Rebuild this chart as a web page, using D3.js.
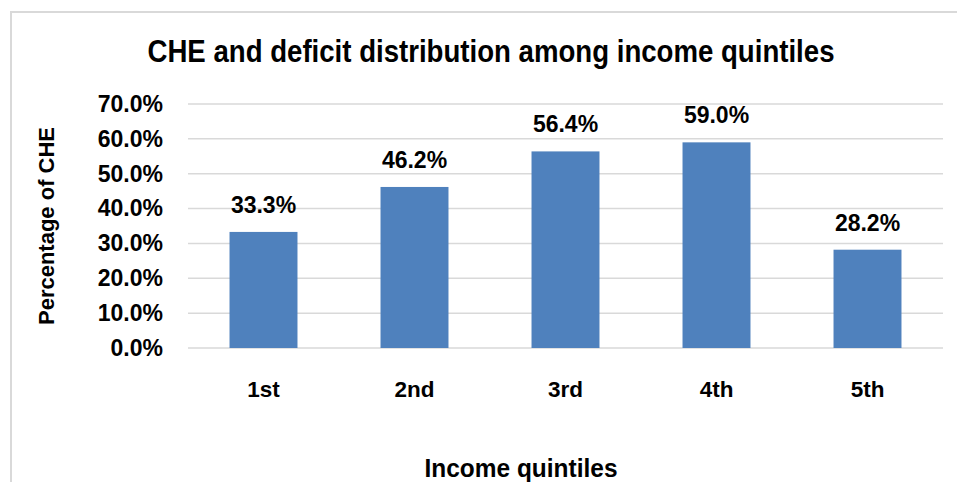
<!DOCTYPE html>
<html>
<head>
<meta charset="utf-8">
<script src="https://cdn.jsdelivr.net/npm/d3@7"></script>
<style>
  body { margin: 0; background: #fff; }
  text { font-family: "Liberation Sans", Arial, sans-serif; font-weight: bold; fill: #000; }
</style>
</head>
<body>
<div id="chart"></div>
<script>
// Chart data
const quintiles = ["1st", "2nd", "3rd", "4th", "5th"];
const chePercent = [33.3, 46.2, 56.4, 59.0, 28.2];
const yTicks = [0, 10, 20, 30, 40, 50, 60, 70];

const width = 957, height = 482;
const margin = { top: 104, right: 14, bottom: 134, left: 188 };

const svg = d3.select("#chart")
    .append("svg")
    .attr("width", width)
    .attr("height", height);

// Outer frame (runs off the right and bottom of the picture)
svg.append("rect")
    .attr("x", 11)
    .attr("y", 12)
    .attr("width", 980)
    .attr("height", 500)
    .attr("fill", "none")
    .attr("stroke", "#d9d9d9")
    .attr("stroke-width", 2);

const x = d3.scaleBand()
    .domain(quintiles)
    .range([margin.left, width - margin.right])
    .paddingInner(0.55)
    .paddingOuter(0.275);

const y = d3.scaleLinear()
    .domain([0, 70])
    .range([height - margin.bottom, margin.top]);

// Gridlines
svg.append("g")
    .selectAll("line")
    .data(yTicks)
    .enter()
    .append("line")
    .attr("x1", margin.left)
    .attr("x2", width - margin.right)
    .attr("y1", d => y(d))
    .attr("y2", d => y(d))
    .attr("stroke", "#d9d9d9")
    .attr("stroke-width", 1.5);

// Y axis labels
const yAxis = svg.append("g")
    .attr("transform", `translate(${margin.left - 25},0)`)
    .call(d3.axisLeft(y).tickValues(yTicks).tickSize(0).tickPadding(0).tickFormat(d => d.toFixed(1) + "%"));
yAxis.select(".domain").remove();
yAxis.selectAll("text")
    .style("font-size", "23px")
    .style("font-family", "'Liberation Sans', Arial, sans-serif")
    .style("font-weight", "bold")
    .attr("fill", "#000");

// Bars
svg.append("g")
    .selectAll("rect")
    .data(chePercent)
    .enter()
    .append("rect")
    .attr("x", (d, i) => x(quintiles[i]))
    .attr("y", d => y(d))
    .attr("width", x.bandwidth())
    .attr("height", d => y(0) - y(d))
    .attr("fill", "#4f81bd");

// Value labels
svg.append("g")
    .selectAll("text")
    .data(chePercent)
    .enter()
    .append("text")
    .attr("x", (d, i) => x(quintiles[i]) + x.bandwidth() / 2)
    .attr("y", d => y(d) - 19)
    .attr("text-anchor", "middle")
    .style("font-size", "23px")
    .text(d => d.toFixed(1) + "%");

// Category labels
const xAxis = svg.append("g")
    .attr("transform", `translate(0,${y(0)})`)
    .call(d3.axisBottom(x).tickSize(0).tickPadding(0));
xAxis.select(".domain").remove();
xAxis.selectAll("text")
    .attr("dy", 0)
    .attr("y", 49)
    .style("font-size", "22.5px")
    .style("font-family", "'Liberation Sans', Arial, sans-serif")
    .style("font-weight", "bold")
    .attr("fill", "#000");

// Title
svg.append("text")
    .attr("x", 491)
    .attr("y", 62)
    .attr("text-anchor", "middle")
    .attr("textLength", 687)
    .attr("lengthAdjust", "spacingAndGlyphs")
    .style("font-size", "31px")
    .text("CHE and deficit distribution among income quintiles");

// Axis titles
svg.append("text")
    .attr("transform", `translate(54,${(y(0) + y(70)) / 2}) rotate(-90)`)
    .attr("text-anchor", "middle")
    .style("font-size", "22px")
    .text("Percentage of CHE");

svg.append("text")
    .attr("x", 521)
    .attr("y", 477)
    .attr("text-anchor", "middle")
    .attr("textLength", 193)
    .attr("lengthAdjust", "spacingAndGlyphs")
    .style("font-size", "26px")
    .text("Income quintiles");
</script>
</body>
</html>
